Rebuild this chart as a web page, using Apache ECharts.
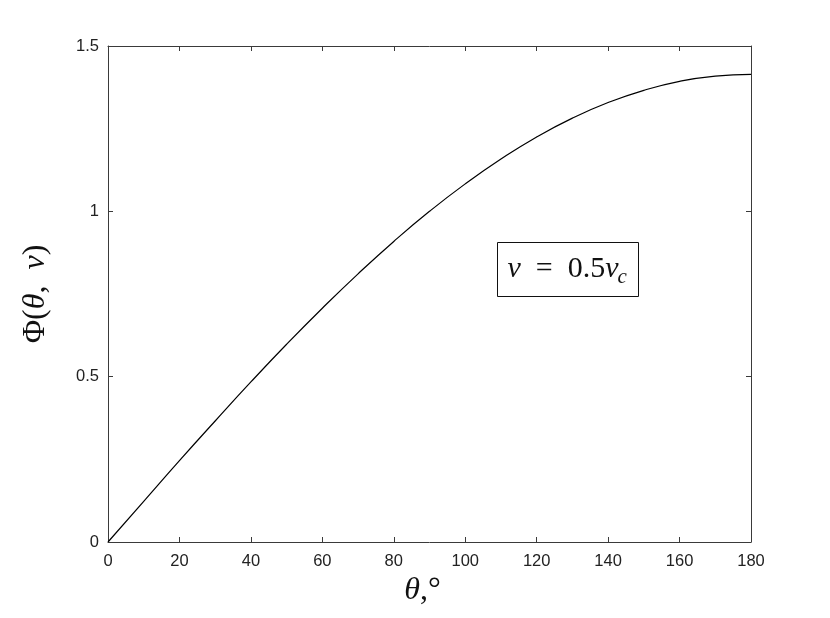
<!DOCTYPE html>
<html>
<head>
<meta charset="utf-8">
<script src="https://cdn.jsdelivr.net/npm/echarts@6/dist/echarts.min.js"></script>
<style>
  html, body { margin: 0; padding: 0; background: #fff; }
  #main { width: 830px; height: 618px; }
</style>
</head>
<body>
<div id="main"></div>
<script>
// 数据
var thetaDeg = [0, 10, 20, 30, 40, 50, 60, 70, 80, 90, 100, 110, 120, 130, 140, 150, 160, 170, 180];
var phiValues = [0, 0.123, 0.246, 0.366, 0.484, 0.598, 0.707, 0.811, 0.909, 1.000,
  1.083, 1.158, 1.225, 1.282, 1.329, 1.366, 1.393, 1.409, 1.414];
var xTicks = [0, 180, 20];
var yTicks = [0, 1.5, 0.5];

var chart = echarts.init(document.getElementById('main'), null, { renderer: 'canvas' });

var axisColor = '#3a3a3a';
var tickFont = "'Liberation Sans', Arial, sans-serif";
var mathFont = "'Liberation Serif', 'DejaVu Serif', serif";

var seriesData = thetaDeg.map(function (t, i) {
  return [t, phiValues[i]];
});

function boxAxis(extra) {
  var a = {
    type: 'value',
    axisLine: { show: true, onZero: false, lineStyle: { color: axisColor, width: 1 } },
    axisTick: { show: true, inside: true, length: 5, lineStyle: { color: axisColor } },
    splitLine: { show: false }
  };
  for (var k in extra) a[k] = extra[k];
  return a;
}

var nameRich = {
  i: { fontFamily: mathFont, fontStyle: 'italic', fontSize: 32, color: '#111' },
  u: { fontFamily: mathFont, fontSize: 32, color: '#111' }
};

var option = {
  animation: false,
  backgroundColor: '#fff',
  grid: { left: 108, top: 46, right: 79, bottom: 76, containLabel: false },
  xAxis: [
    boxAxis({
      position: 'bottom',
      min: xTicks[0], max: xTicks[1], interval: xTicks[2],
      axisLabel: { color: '#222', fontFamily: tickFont, fontSize: 16.5, margin: 11 },
      name: '{i|θ}{u|,°}',
      nameLocation: 'middle',
      nameGap: 33,
      nameTextStyle: { padding: [0, 14, 0, 0], rich: nameRich }
    }),
    boxAxis({
      position: 'top',
      min: xTicks[0], max: xTicks[1], interval: xTicks[2],
      axisLabel: { show: false }
    })
  ],
  yAxis: [
    boxAxis({
      position: 'left',
      min: yTicks[0], max: yTicks[1], interval: yTicks[2],
      axisLabel: { color: '#222', fontFamily: tickFont, fontSize: 16.5, margin: 9 },
      name: '{u|Φ(}{i|θ}{u|,\u2002}{i|v}{u|)}',
      nameLocation: 'middle',
      nameRotate: 90,
      nameGap: 56,
      nameTextStyle: { rich: nameRich }
    }),
    boxAxis({
      position: 'right',
      min: yTicks[0], max: yTicks[1], interval: yTicks[2],
      axisLabel: { show: false }
    })
  ],
  series: [{
    type: 'line',
    data: seriesData,
    smooth: true,
    showSymbol: false,
    lineStyle: { color: '#000', width: 1.2 }
  }],
  graphic: [{
    type: 'group',
    left: 497,
    top: 242,
    children: [
      {
        type: 'rect',
        shape: { x: 0, y: 0, width: 141, height: 54 },
        style: { fill: '#fff', stroke: '#111', lineWidth: 1 }
      },
      {
        type: 'text',
        x: 10, y: 27,
        style: {
          text: '{i|v}{u|\u2002=\u20020.5}{i|v}',
          verticalAlign: 'middle',
          rich: {
            i: { fontFamily: mathFont, fontStyle: 'italic', fontSize: 30, fill: '#111' },
            u: { fontFamily: mathFont, fontSize: 30, fill: '#111' }
          }
        }
      },
      {
        type: 'text',
        x: 120, y: 35,
        style: {
          text: 'c',
          fontFamily: mathFont, fontStyle: 'italic', fontSize: 21, fill: '#111',
          verticalAlign: 'middle'
        }
      }
    ]
  }]
};

chart.setOption(option);
</script>
</body>
</html>
